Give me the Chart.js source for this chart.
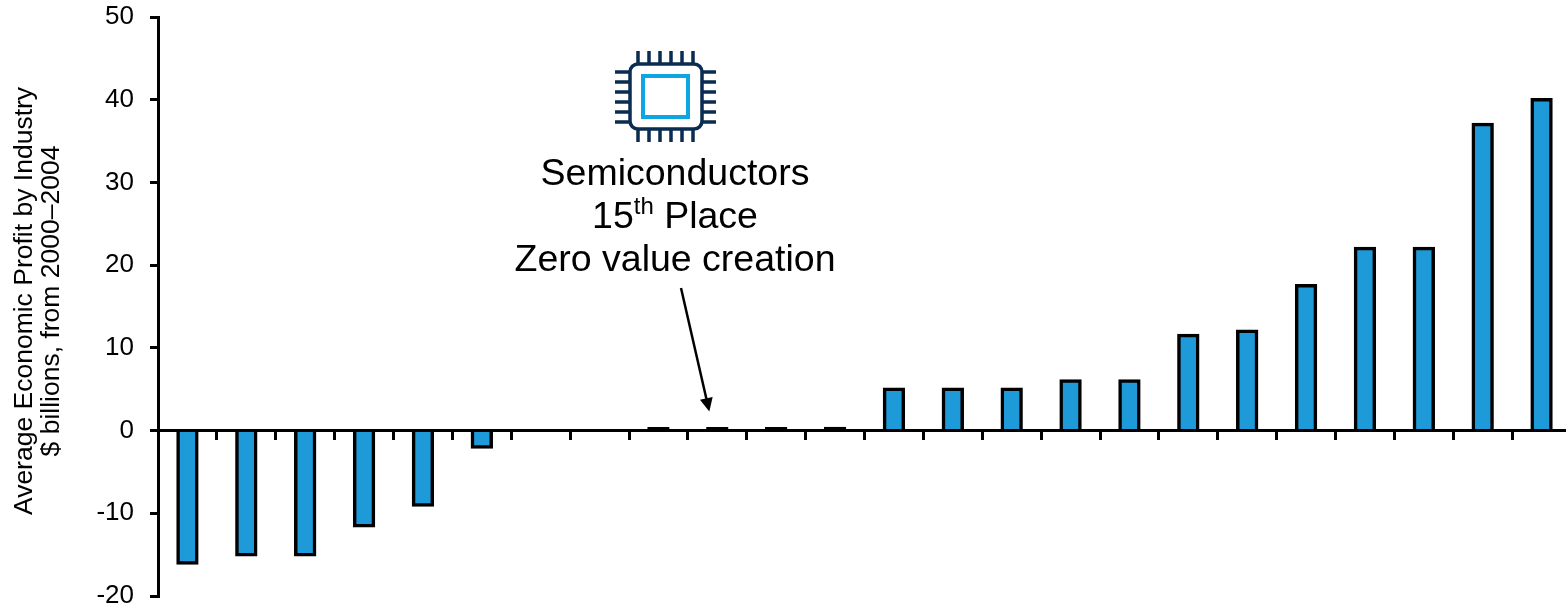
<!DOCTYPE html>
<html lang="en">

<head>
  <meta charset="UTF-8" />
  <title>Average Economic Profit by Industry</title>
  <script src="https://cdn.jsdelivr.net/npm/chart.js"></script>
  <style>
    html, body { margin: 0; padding: 0; background: #fff; overflow: hidden; }
    .wrap { width: 1566px; height: 607px; overflow: hidden; }
  </style>
</head>

<body>
  <div class="wrap">
    <canvas id="profitChart" width="1571" height="607"></canvas>
  </div>

  <script>
    // industries ranked from lowest to highest, 15th from the top is semiconductors
    const ranks = ['24', '23', '22', '21', '20', '19', '18', '17', '16', '15', '14', '13',
      '12', '11', '10', '9', '8', '7', '6', '5', '4', '3', '2', '1'];
    const profit = [-16, -15, -15, -11.5, -9, -2, 0, 0, 0.05, 0.05, 0.05, 0.25,
      5, 5, 5, 6, 6, 11.5, 12, 17.5, 22, 22, 37, 40];
    const yTitle = ['Average Economic Profit by Industry', '$ billions, from 2000\u20132004'];
    const noteName = 'Semiconductors';
    const notePlace = ['15', 'th', ' Place'];
    const noteValue = 'Zero value creation';
    const noteRank = '15';

    const ink = '#000000';
    const blue = '#1f9ad8';
    const font = '"Liberation Sans", Arial, sans-serif';

    function drawChip(c) {
      const navy = '#0a2c50';
      c.save();
      c.strokeStyle = navy;
      c.lineWidth = 3.5;
      c.beginPath();
      for (const x of [638, 649, 660, 671, 682, 693]) {
        c.moveTo(x, 51); c.lineTo(x, 63);
        c.moveTo(x, 130); c.lineTo(x, 142);
      }
      for (const y of [72, 82, 92, 102, 112, 122]) {
        c.moveTo(615, y); c.lineTo(629, y);
        c.moveTo(702, y); c.lineTo(716, y);
      }
      c.stroke();
      c.beginPath();
      c.roundRect(630, 64, 72, 65, 8);
      c.stroke();
      c.strokeStyle = '#0ea5e3';
      c.lineWidth = 4;
      c.strokeRect(643, 76, 45, 41);
      c.restore();
    }

    // annotation, chip icon and the two line axis title
    const extras = {
      id: 'extras',
      afterDraw(chart) {
        const c = chart.ctx;
        const { x, y } = chart.scales;

        c.save();
        c.fillStyle = ink;
        c.textBaseline = 'alphabetic';

        c.save();
        c.translate(32, 301);
        c.rotate(-Math.PI / 2);
        c.textAlign = 'center';
        c.font = '26.5px ' + font;
        c.fillText(yTitle[0], 0, 0);
        c.fillText(yTitle[1], 0, 27);
        c.restore();

        drawChip(c);

        const cx = 675;
        c.textAlign = 'center';
        c.font = '37.5px ' + font;
        c.fillText(noteName, cx, 185);
        c.fillText(noteValue, cx, 271);

        // second line has a raised ordinal so it is laid out piece by piece
        c.textAlign = 'left';
        const w0 = c.measureText(notePlace[0]).width;
        const w2 = c.measureText(notePlace[2]).width;
        c.font = '24px ' + font;
        const w1 = c.measureText(notePlace[1]).width;
        let px = cx - (w0 + w1 + w2) / 2;
        c.font = '37.5px ' + font;
        c.fillText(notePlace[0], px, 228);
        px += w0;
        c.font = '24px ' + font;
        c.fillText(notePlace[1], px, 214);
        px += w1;
        c.font = '37.5px ' + font;
        c.fillText(notePlace[2], px, 228);

        // arrow down to the semiconductors bar
        const tipX = x.getPixelForValue(ranks.indexOf(noteRank)) - 8;
        const tipY = y.getPixelForValue(0) - 19;
        const fromX = 681, fromY = 288;
        const a = Math.atan2(tipY - fromY, tipX - fromX);
        c.strokeStyle = ink;
        c.lineWidth = 2.5;
        c.beginPath();
        c.moveTo(fromX, fromY);
        c.lineTo(tipX - 10 * Math.cos(a), tipY - 10 * Math.sin(a));
        c.stroke();
        c.beginPath();
        c.moveTo(tipX, tipY);
        c.lineTo(tipX - 15 * Math.cos(a - 0.45), tipY - 15 * Math.sin(a - 0.45));
        c.lineTo(tipX - 15 * Math.cos(a + 0.45), tipY - 15 * Math.sin(a + 0.45));
        c.closePath();
        c.fill();
        c.restore();
      }
    };

    const ctx = document.getElementById('profitChart').getContext('2d');

    new Chart(ctx, {
      type: 'bar',
      data: {
        labels: ranks,
        datasets: [{
          data: profit,
          // near-zero industries only show as a short dash on the axis
          backgroundColor: (c) => (c.raw === 0 ? 'transparent' : Math.abs(c.raw) < 0.5 ? ink : blue),
          borderColor: ink,
          borderWidth: (c) => (c.raw === 0 ? 0 : 3.5),
          borderSkipped: 'start',
          // centre the outline on the bar's edge instead of inside it
          inflateAmount: 1.75,
          barPercentage: 0.32,
          categoryPercentage: 1,
          minBarLength: 1.8
        }]
      },
      plugins: [extras],
      options: {
        responsive: false,
        animation: false,
        layout: { padding: { top: 17, bottom: 11, left: 0, right: 0 } },
        plugins: {
          legend: { display: false },
          tooltip: { enabled: false }
        },
        scales: {
          x: {
            position: { y: 0 },
            offset: true,
            ticks: { display: false },
            grid: {
              offset: true,
              drawOnChartArea: false,
              color: ink,
              lineWidth: 3,
              tickLength: 8
            },
            border: { color: ink, width: 3 }
          },
          y: {
            min: -20,
            max: 50,
            afterFit(scale) {
              scale.width = 158;
              scale.paddingTop = 0;
              scale.paddingBottom = 0;
            },
            ticks: {
              stepSize: 10,
              color: ink,
              padding: 16,
              font: { family: font, size: 26 }
            },
            grid: {
              drawOnChartArea: false,
              color: ink,
              lineWidth: 3,
              tickLength: 8
            },
            border: { color: ink, width: 3 }
          }
        }
      }
    });
  </script>
</body>

</html>
